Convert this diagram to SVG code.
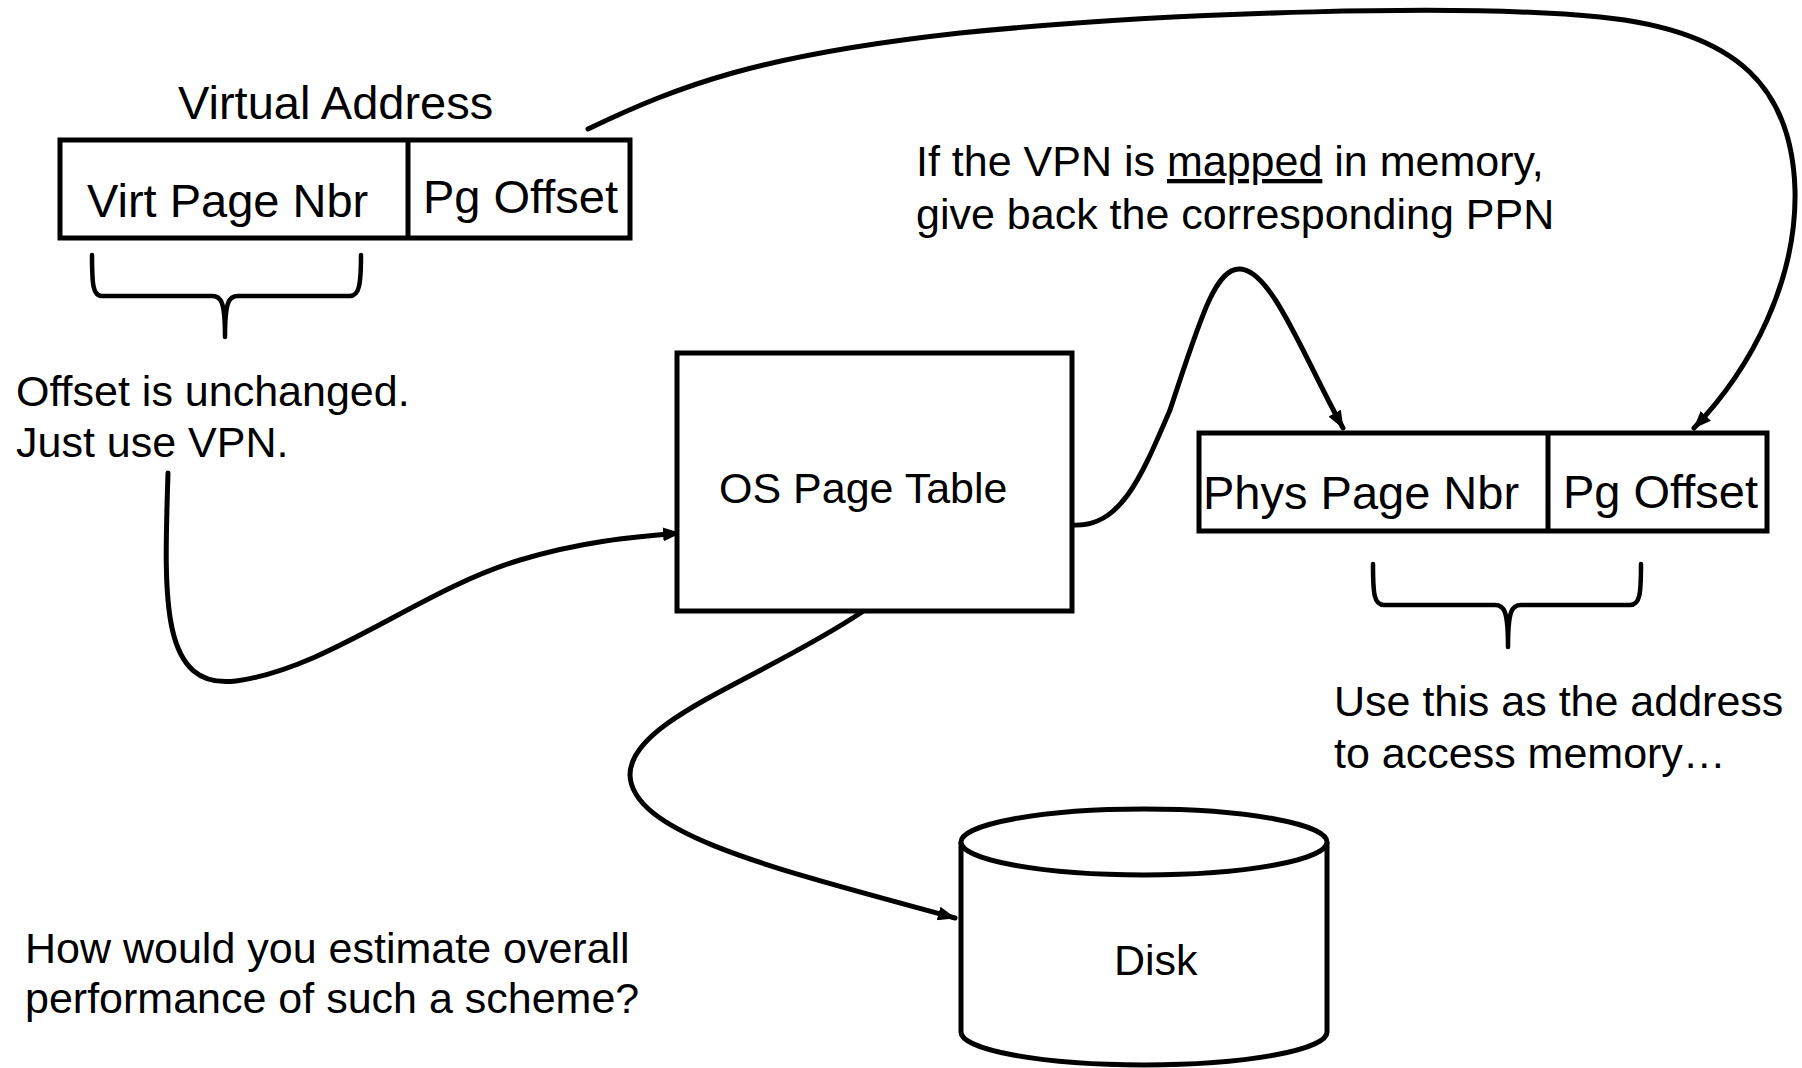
<svg xmlns="http://www.w3.org/2000/svg" width="1802" height="1068" viewBox="0 0 1802 1068">
  <style>
    text { font-family: "Liberation Sans", Arial, sans-serif; fill: #000; }
    .lbl { font-size: 43px; }
    .fld { font-size: 47px; }
    .box { fill: #fff; stroke: #000; stroke-width: 5; }
    .wire { fill: none; stroke: #000; stroke-width: 5; stroke-linecap: round; }
    .brace { fill: none; stroke: #000; stroke-width: 4.5; stroke-linecap: round; stroke-linejoin: round; }
  </style>
  <defs>
    <marker id="arrow" viewBox="0 0 18 14" refX="17" refY="7" markerWidth="18" markerHeight="14" markerUnits="userSpaceOnUse" orient="auto">
      <path d="M0,0 L18,7 L0,14 z" fill="#000"/>
    </marker>
  </defs>
  <rect width="1802" height="1068" fill="#fff"/>

  <!-- connectors -->
  <g id="connectors">
    <path class="wire" d="M588,129 C 680,85 760,55 960,33 C 1180,11 1470,4 1600,17 C 1740,31 1792,90 1795,190 C 1797,280 1752,368 1694,428" stroke-width="5.5" marker-end="url(#arrow)"/>
    <path class="wire" d="M168,473 C 164,600 160,690 236,681 C 330,668 420,590 520,560 C 580,542 630,537 680,533" marker-end="url(#arrow)"/>
    <path class="wire" d="M1072,525 C 1120,528 1140,480 1170,410 C 1200,320 1215,268 1240,269 C 1272,270 1305,360 1343,428" marker-end="url(#arrow)"/>
    <path class="wire" d="M862,612 C 760,680 630,720 630,775 C 632,835 780,870 955,918" marker-end="url(#arrow)"/>
  </g>

  <!-- virtual address -->
  <g id="virtual-address">
    <text class="fld" x="178" y="119">Virtual Address</text>
    <rect class="box" x="60" y="140" width="570" height="98"/>
    <line x1="408" y1="140" x2="408" y2="238" stroke="#000" stroke-width="5"/>
    <text class="fld" x="87" y="217">Virt Page Nbr</text>
    <text class="fld" x="423" y="213">Pg Offset</text>
  </g>

  <g id="vpn-brace">
    <path class="brace" d="M92,255 C 92,285 93,296 102,296 L 212,296 C 221,296 225,301 225,337 C 225,301 229,296 238,296 L 350,296 C 359,296 361,285 361,255"/>
    <text class="lbl" x="16" y="406">Offset is unchanged.</text>
    <text class="lbl" x="16" y="457">Just use VPN.</text>
  </g>

  <!-- page table -->
  <g id="page-table">
    <rect class="box" x="677" y="353" width="395" height="258"/>
    <text class="lbl" x="719" y="503">OS Page Table</text>
  </g>

  <g id="mapped-note">
    <text class="lbl" x="916" y="176">If the VPN is <tspan text-decoration="underline">mapped</tspan> in memory,</text>
    <text class="lbl" x="916" y="229">give back the corresponding PPN</text>
  </g>

  <!-- physical address -->
  <g id="physical-address">
    <rect class="box" x="1199" y="433" width="568" height="98"/>
    <line x1="1548" y1="433" x2="1548" y2="531" stroke="#000" stroke-width="5"/>
    <text class="fld" x="1203" y="509">Phys Page Nbr</text>
    <text class="fld" x="1563" y="508">Pg Offset</text>
  </g>

  <g id="ppn-brace">
    <path class="brace" d="M1373,564 C 1373,594 1374,605 1384,605 L 1495,605 C 1504,605 1508,610 1508,647 C 1508,610 1512,605 1521,605 L 1630,605 C 1640,605 1641,594 1641,564"/>
    <text class="lbl" x="1334" y="716">Use this as the address</text>
    <text class="lbl" x="1334" y="768">to access memory…</text>
  </g>

  <!-- disk -->
  <g id="disk">
    <path class="box" d="M961,842 L961,1032 A183,33 0 0 0 1327,1032 L1327,842"/>
    <ellipse class="box" cx="1144" cy="842" rx="183" ry="33"/>
    <text class="lbl" x="1114" y="975">Disk</text>
  </g>

  <g id="question">
    <text class="lbl" x="25" y="963">How would you estimate overall</text>
    <text class="lbl" x="25" y="1013">performance of such a scheme?</text>
  </g>
</svg>
